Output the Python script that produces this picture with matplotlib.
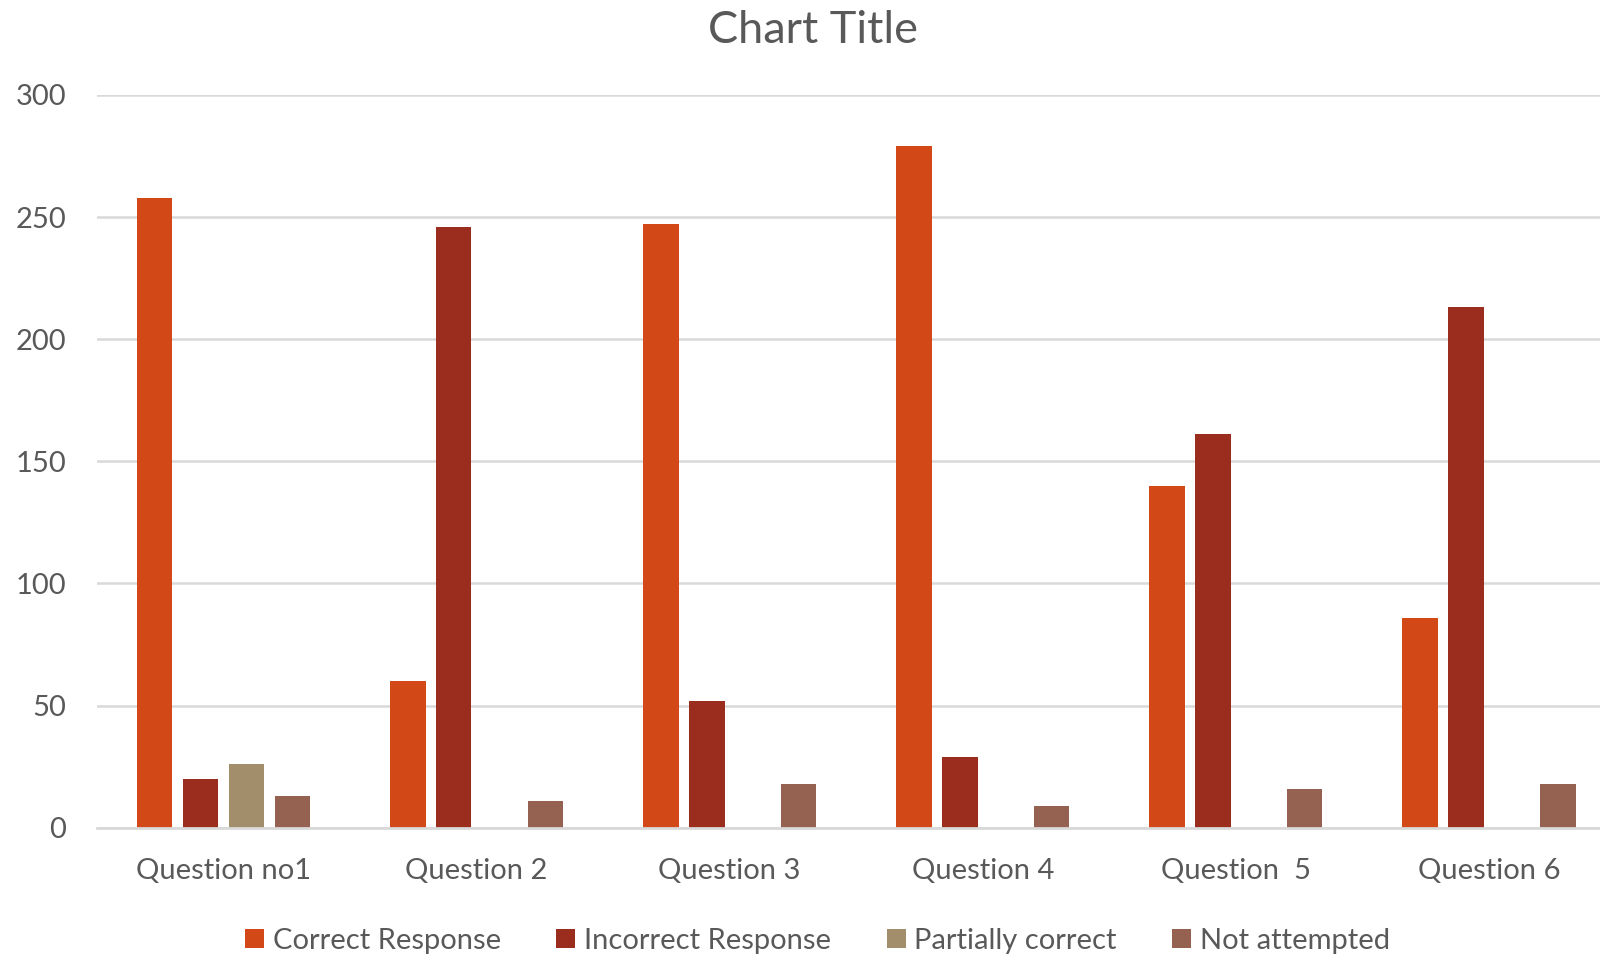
import numpy as np
import matplotlib
matplotlib.use('Agg')
import matplotlib.pyplot as plt

plt.rcParams['font.family'] = ['Lato', 'DejaVu Sans']

questions = ['Question no1', 'Question 2', 'Question 3', 'Question 4', 'Question  5', 'Question 6']
correct = [258, 60, 247, 279, 140, 86]
incorrect = [20, 246, 52, 29, 161, 213]
partial = [26, 0, 0, 0, 0, 0]
not_attempted = [13, 11, 18, 9, 16, 18]

series = [('Correct Response', correct, '#D34817'),
          ('Incorrect Response', incorrect, '#9B2D1F'),
          ('Partially correct', partial, '#A28E6A'),
          ('Not attempted', not_attempted, '#956251')]

txt = '#595959'
grid = '#D9D9D9'

fig = plt.figure(figsize=(16, 9.59), dpi=100)
ax = fig.add_axes([0.0606, 0.137, 0.949, 0.764])

x = np.arange(len(questions))
width = 0.141
step = 0.1815
for k, (name, vals, col) in enumerate(series):
    ax.bar(x + (k - 1.5) * step, vals, width, color=col, label=name, zorder=3)

ax.set_xlim(-0.5, len(questions) - 0.5)
ax.set_ylim(0, 300)
ax.set_yticks(range(0, 301, 50))
ax.set_xticks(x)
ax.set_xticklabels(questions)
ax.grid(axis='y', color=grid, linewidth=1.8, zorder=0)
for s in ['top', 'right', 'left']:
    ax.spines[s].set_visible(False)
ax.spines['bottom'].set_color(grid)
ax.spines['bottom'].set_linewidth(2)
ax.spines['bottom'].set_zorder(4)
ax.tick_params(axis='both', length=0, labelsize=21, colors=txt)
ax.tick_params(axis='x', pad=22)
ax.tick_params(axis='y', pad=22)

fig.suptitle('Chart Title', fontsize=32.5, color=txt, y=0.99, x=0.508)

fig.legend(loc='lower center', bbox_to_anchor=(0.511, -0.022), ncol=4, frameon=False,
           fontsize=21, labelcolor=txt, handlelength=0.65, handleheight=0.65,
           handletextpad=0.3, columnspacing=1.9)

fig.savefig('out.png', dpi=100)
